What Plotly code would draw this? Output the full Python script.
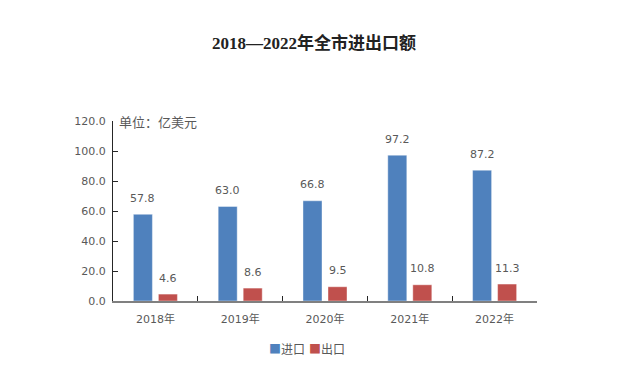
import plotly.graph_objects as go

years = ["2018年", "2019年", "2020年", "2021年", "2022年"]
imports = [57.8, 63.0, 66.8, 97.2, 87.2]
exports = [4.6, 8.6, 9.5, 10.8, 11.3]
y_ticks = [0, 20, 40, 60, 80, 100, 120]
series_names = ["进口", "出口"]
colors = ["#4F81BD", "#C0504D"]

num_font = "DejaVu Sans, Noto Sans CJK SC, sans-serif"
cjk_font = "Noto Sans CJK SC, sans-serif"
grey = "#595959"

# page has an 8px body margin; figure is laid out in its own pixel space
W, H = 632, 360
L, R, T, B = 105, 103, 113, 67
PW, PH = W - L - R, H - T - B

def px(xs):
    return (xs - 8 - L) / PW

def py(ys):
    return 1 - (ys - 8 - T) / PH

fig = go.Figure()
for name, vals, col in zip(series_names, [imports, exports], colors):
    fig.add_trace(go.Bar(x=years, y=vals, name=name, marker_color=col,
                         marker_line=dict(width=0.8, color="rgba(255,255,255,0.5)")))

# value labels above bars
for vals, shift in zip([imports, exports], [-12.5, 12.5]):
    for cat, v in zip(years, vals):
        fig.add_annotation(x=cat, y=v, xref="x", yref="y", text=f"{v:.1f}", showarrow=False,
                           xshift=shift, yshift=16, xanchor="center", yanchor="middle",
                           font=dict(size=11, color=grey, family=num_font))

fig.update_layout(
    width=W, height=H,
    paper_bgcolor="white", plot_bgcolor="white",
    margin=dict(l=L, r=R, t=T, b=B, autoexpand=False),
    barmode="group", bargap=0.41, bargroupgap=0.24,
    title=dict(text="<b>2018—2022年全市进出口额</b>", x=(314 - 8) / W, xanchor="center",
               y=1 - 35 / H, yanchor="middle", yref="container",
               font=dict(family="Liberation Serif, Noto Sans CJK SC, serif", size=17, color="#222222")),
    font=dict(family=num_font, size=11, color=grey),
    showlegend=False,
)
fig.update_yaxes(range=[0, 120], tickvals=y_ticks, ticktext=[f"{v:.1f}" for v in y_ticks],
                 showgrid=False, showline=True, linecolor="#262626", linewidth=1,
                 ticks="inside", ticklen=5, tickcolor="#262626", zeroline=False,
                 tickfont=dict(size=11, color=grey, family=num_font), automargin=False,
                 ticklabelstandoff=4)
fig.update_xaxes(showgrid=False, showline=True, linecolor="#808080", linewidth=2,
                 tickfont=dict(size=11, color=grey, family=num_font), automargin=False,
                 tickson="boundaries", ticks="inside", ticklen=5, tickcolor="#262626", tickwidth=1,
                 ticklabelstandoff=7)
fig.add_annotation(text="单位：亿美元", xref="paper", yref="paper", x=px(117), y=py(121),
                   xanchor="left", yanchor="middle", showarrow=False,
                   font=dict(size=13, color=grey, family=cjk_font))
# legend entries
for name, col, lx in zip(series_names, colors, [267, 307]):
    fig.add_annotation(text=f"<span style='color:{col}'>■</span>{name}", xref="paper", yref="paper",
                       x=px(lx), y=py(348), xanchor="left", yanchor="middle", showarrow=False,
                       font=dict(size=12, color=grey, family=cjk_font))

fig.write_html("out.html")
